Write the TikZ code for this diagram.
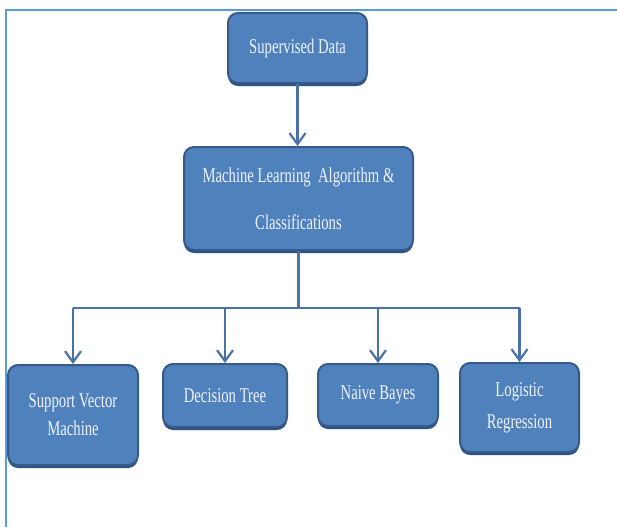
\documentclass[tikz,border=0pt]{standalone}
\usepackage{fontspec}
\setmainfont{Liberation Serif}[FakeStretch=0.7]
\usetikzlibrary{arrows.meta,shadows}
\definecolor{boxfill}{HTML}{4F81BD}
\definecolor{boxedge}{HTML}{375A87}
\definecolor{boxshadow}{HTML}{2E5283}
\definecolor{linkc}{HTML}{4A71A6}
\definecolor{framec}{HTML}{5B9BD5}
\definecolor{textc}{HTML}{EEF2F8}
\tikzset{
  box/.style={rectangle, rounded corners=10pt, fill=boxfill, draw=boxedge,
    line width=2pt, text=textc, align=center, inner sep=0pt,
    drop shadow={shadow xshift=0pt, shadow yshift=-3pt, opacity=1, fill=boxshadow}},
  link/.style={draw=linkc, line width=2.2pt},
  arr/.style={link, -{Straight Barb[length=11pt,width=16pt,line width=2.2pt]}},
  frameline/.style={draw=framec, line width=2.5pt}
}
\begin{document}
\begin{tikzpicture}[x=1pt,y=-1pt]
\useasboundingbox (0,0) rectangle (617,527);
\fill[white] (0,0) rectangle (617,527);
\draw[frameline] (6,527) -- (6,10) -- (617,10);

\node[box, minimum width=139pt, minimum height=70pt, font=\fontsize{21}{24}\selectfont] (sd) at (297.5,48) {Supervised Data};
\node[box, minimum width=229pt, minimum height=103pt, font=\fontsize{21}{47}\selectfont] (ml) at (298.5,198.5) {Machine Learning\ \ Algorithm \&\\Classifications};
\node[box, minimum width=130pt, minimum height=100pt, font=\fontsize{21}{28}\selectfont] (svm) at (73,415) {Support Vector\\Machine};
\node[box, minimum width=124pt, minimum height=63pt, font=\fontsize{21}{24}\selectfont] (dt) at (225,395.5) {Decision Tree};
\node[box, minimum width=120pt, minimum height=62pt, font=\fontsize{21}{24}\selectfont] (nb) at (378,395) {Naive Bayes};
\node[box, minimum width=119pt, minimum height=89pt, font=\fontsize{21}{32}\selectfont] (lr) at (519.5,407.5) {Logistic\\Regression};

\coordinate (hub) at (298,308);
\draw[arr] (sd.south) -- (sd.south |- ml.north);
\draw[link] (ml.south) -- (ml.south |- hub);
\draw[link] (svm.north |- hub) -- (lr.north |- hub);
\draw[arr] (svm.north |- hub) -- (svm.north);
\draw[arr] (dt.north |- hub) -- (dt.north);
\draw[arr] (nb.north |- hub) -- (nb.north);
\draw[arr] (lr.north |- hub) -- (lr.north);
\end{tikzpicture}
\end{document}
